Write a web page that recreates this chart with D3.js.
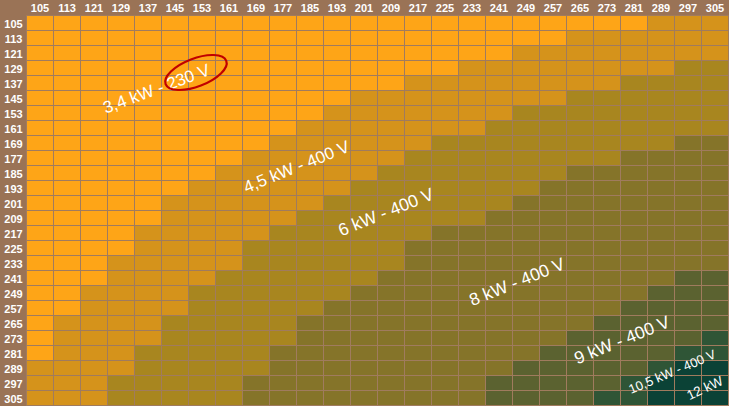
<!DOCTYPE html>
<html>
<head>
<meta charset="utf-8">
<script src="https://cdn.jsdelivr.net/npm/d3@7"></script>
<style>
  html, body { margin: 0; padding: 0; background: #9A7356; }
  svg { display: block; }
</style>
</head>
<body>
<svg id="chart" width="729" height="406"></svg>
<script>
// ---- data ----
const colValues = [105,113,121,129,137,145,153,161,169,177,185,193,201,209,217,225,233,241,249,257,265,273,281,289,297,305];
const rowValues = [105,113,121,129,137,145,153,161,169,177,185,193,201,209,217,225,233,241,249,257,265,273,281,289,297,305];

// zone index per cell (one string per row, one digit per column)
const zoneRows = [
  "00000000000000000000000111",
  "00000000000000000000111111",
  "00000000000000000011111111",
  "00000000000000001111111122",
  "00000000000000111111112222",
  "00000000000011111111222222",
  "00000000000111111122222222",
  "00000000001111111222222222",
  "00000000011111122222222233",
  "00000000111111222222223333",
  "00000001111112222222333333",
  "00000011111122222223333333",
  "00000111111222222233333333",
  "00000111112222222333333333",
  "00001111122222233333333333",
  "00001111222222333333333333",
  "00011111222222333333333333",
  "00011112222223333333333344",
  "00111122222233333333333444",
  "00111122222333333333334444",
  "01111222223333333333344444",
  "01111222223333333333444445",
  "01112222233333333334444455",
  "11112222233333333344444566",
  "11122222333333333444445666",
  "11122222333333333444455666"
];

const zoneColors = ["#FEA517", "#D5931B", "#A8861F", "#857429", "#5B6230", "#2F5536", "#0B4236"];

// label centres expressed in the grid's own units (column value, row value)
const zoneLabels = [
  { text: "3,4 kW - 230 V",   col: 139.5, row: 140.2, size: 17,   angle: -20.5 },
  { text: "4,5 kW - 400 V",   col: 181,   row: 181.8, size: 17,   angle: -22 },
  { text: "6 kW - 400 V",     col: 207.5, row: 205.8, size: 17.5, angle: -22 },
  { text: "8 kW - 400 V",     col: 246.3, row: 243,   size: 17.5, angle: -22 },
  { text: "9 kW - 400 V",     col: 277.4, row: 274,   size: 17.5, angle: -22 },
  { text: "10,5 kW - 400 V",  col: 292.3, row: 291,   size: 13,   angle: -23 },
  { text: "12 kW",            col: 302,   row: 299.7, size: 13.5, angle: -25 }
];
const ellipseAt = { col: 151.2, row: 131.4 };

// ---- layout ----
const W = 729, H = 406;
const gx0 = 26.5, gy0 = 15.5, cellW = 27, cellH = 15;
const bg = "#9A7356", gridColor = "#A07B5E";

const svg = d3.select("#chart");
svg.append("rect").attr("width", W).attr("height", H).attr("fill", bg);

const x = d3.scaleBand().domain(colValues).range([gx0, gx0 + cellW * colValues.length]).padding(0);
const y = d3.scaleBand().domain(rowValues).range([gy0, gy0 + cellH * rowValues.length]).padding(0);

// continuous helpers for label placement (value -> pixel centre)
const xc = d3.scaleLinear().domain([colValues[0], colValues[colValues.length - 1]])
  .range([x(colValues[0]) + x.bandwidth() / 2, x(colValues[colValues.length - 1]) + x.bandwidth() / 2]);
const yc = d3.scaleLinear().domain([rowValues[0], rowValues[rowValues.length - 1]])
  .range([y(rowValues[0]) + y.bandwidth() / 2, y(rowValues[rowValues.length - 1]) + y.bandwidth() / 2]);

const cells = [];
rowValues.forEach((r, i) => {
  colValues.forEach((c, j) => {
    cells.push({ r, c, z: +zoneRows[i][j] });
  });
});

svg.append("g").selectAll("rect").data(cells).join("rect")
  .attr("x", d => x(d.c))
  .attr("y", d => y(d.r))
  .attr("width", x.bandwidth())
  .attr("height", y.bandwidth())
  .attr("fill", d => zoneColors[d.z])
  .attr("stroke", gridColor)
  .attr("stroke-width", 1);

// column headers
svg.append("g").selectAll("text").data(colValues).join("text")
  .attr("x", d => x(d) + x.bandwidth() / 2)
  .attr("y", 8)
  .attr("text-anchor", "middle")
  .attr("dominant-baseline", "central")
  .attr("fill", "#fff")
  .attr("font-family", "Liberation Sans, Arial, sans-serif")
  .attr("font-weight", "bold")
  .attr("font-size", 11)
  .text(d => d);

// row headers
svg.append("g").selectAll("text").data(rowValues).join("text")
  .attr("x", 13.5)
  .attr("y", d => y(d) + y.bandwidth() / 2 + 0.5)
  .attr("text-anchor", "middle")
  .attr("dominant-baseline", "central")
  .attr("fill", "#fff")
  .attr("font-family", "Liberation Sans, Arial, sans-serif")
  .attr("font-weight", "bold")
  .attr("font-size", 11)
  .text(d => d);

// zone labels
svg.append("g").selectAll("text").data(zoneLabels).join("text")
  .attr("transform", d => `translate(${xc(d.col)},${yc(d.row)}) rotate(${d.angle})`)
  .attr("text-anchor", "middle")
  .attr("dominant-baseline", "central")
  .attr("fill", "#fff")
  .attr("font-family", "Liberation Sans, Arial, sans-serif")
  .attr("font-size", d => d.size)
  .text(d => d.text);

// red ellipse around "230 V"
svg.append("ellipse")
  .attr("transform", `translate(${xc(ellipseAt.col)},${yc(ellipseAt.row)}) rotate(-21)`)
  .attr("rx", 32.5)
  .attr("ry", 14)
  .attr("fill", "none")
  .attr("stroke", "#C00000")
  .attr("stroke-width", 2.2);
</script>
</body>
</html>
